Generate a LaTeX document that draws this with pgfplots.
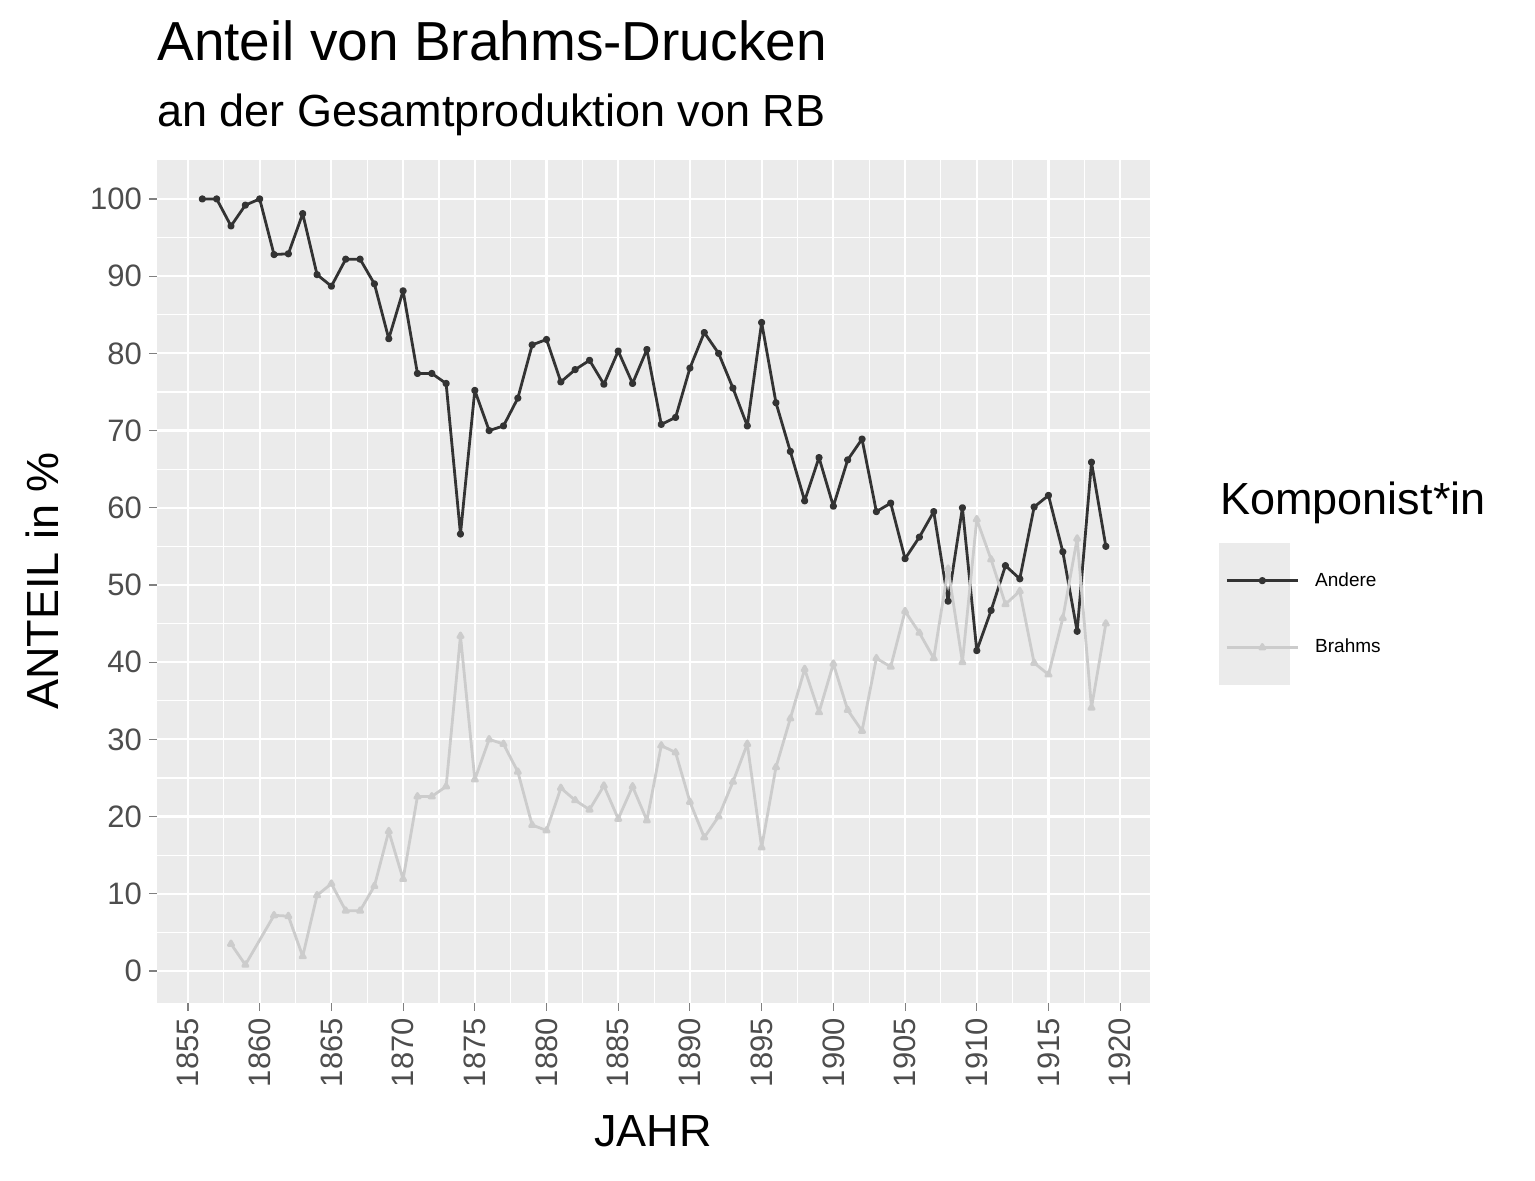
\documentclass[border=0pt]{standalone}
\usepackage{pgfplots}
\pgfplotsset{compat=1.18}
\usepackage{fontspec}
\setmainfont{Liberation Sans}
\definecolor{bg}{HTML}{EBEBEB}
\definecolor{andere}{HTML}{333333}
\definecolor{brahms}{HTML}{CCCCCC}
\definecolor{tick}{HTML}{4D4D4D}
\begin{document}
\begin{tikzpicture}
\useasboundingbox (0,0) rectangle (767.5pt,590.5pt);
\fill[bg] (609.5pt,248pt) rectangle (645pt,319pt);
\begin{axis}[at={(78.5pt,89pt)}, anchor=south west, scale only axis,
 width=496.5pt, height=421.5pt,
 xmin=1852.84, xmax=1922.08, ymin=-4.15, ymax=105.05,
 axis background/.style={fill=bg}, axis line style={draw=none},
 xtick={1855,1860,...,1920}, ytick={0,10,...,100},
 minor xtick={1857.5,1862.5,...,1917.5}, minor ytick={5,15,...,95},
 grid=both, major grid style={white,line width=1.1pt}, minor grid style={white,line width=0.55pt},
 tick style={tick,line width=0.55pt}, major tick length=4pt, minor tick length=0pt,
 tick align=outside, xtick pos=bottom, ytick pos=left,
 /pgf/number format/assume math mode=true, /pgf/number format/1000 sep={},
 ticklabel style={font=\fontsize{15.5}{18}\selectfont, text=tick},
 xticklabel style={rotate=90, anchor=east},
 legend style={at={(1.0695,0.4614)}, anchor=west, draw=none, fill=none, font=\fontsize{9.5}{11}\selectfont, row sep=21pt},
 legend cell align=left,
 legend image code/.code={\draw[#1] (0pt,0pt) -- (35.5pt,0pt); \draw[#1,only marks] plot coordinates {(17.75pt,0pt)};},
]
\addplot[andere, line width=1.4pt, line join=round, mark=*, mark size=1.1pt] coordinates {
(1856,100)(1857,100)(1858,96.5)(1859,99.2)(1860,100)(1861,92.8)(1862,92.9)(1863,98.1)(1864,90.2)(1865,88.7)
(1866,92.2)(1867,92.2)(1868,89)(1869,81.9)(1870,88.1)(1871,77.4)(1872,77.4)(1873,76.1)(1874,56.6)(1875,75.2)
(1876,70.0)(1877,70.6)(1878,74.2)(1879,81.1)(1880,81.8)(1881,76.3)(1882,77.9)(1883,79.1)(1884,76.0)(1885,80.3)
(1886,76.1)(1887,80.5)(1888,70.8)(1889,71.7)(1890,78.1)(1891,82.7)(1892,80.0)(1893,75.5)(1894,70.6)(1895,84.0)
(1896,73.6)(1897,67.3)(1898,60.9)(1899,66.5)(1900,60.2)(1901,66.2)(1902,68.9)(1903,59.5)(1904,60.6)(1905,53.4)
(1906,56.2)(1907,59.5)(1908,47.9)(1909,60.0)(1910,41.5)(1911,46.7)(1912,52.5)(1913,50.8)(1914,60.1)(1915,61.6)
(1916,54.3)(1917,44.0)(1918,65.9)(1919,55.0)};
\addlegendentry{\hspace*{6pt}Andere}
\addplot[brahms, line width=1.4pt, line join=round, mark=triangle*, mark size=1.5pt] coordinates {
(1858,3.5)(1859,0.8)(1861,7.2)(1862,7.1)(1863,1.9)(1864,9.8)(1865,11.3)(1866,7.8)(1867,7.8)(1868,11)
(1869,18.1)(1870,11.9)(1871,22.6)(1872,22.6)(1873,23.9)(1874,43.4)(1875,24.8)(1876,30)(1877,29.4)(1878,25.8)
(1879,18.9)(1880,18.2)(1881,23.7)(1882,22.1)(1883,20.9)(1884,24)(1885,19.7)(1886,23.9)(1887,19.5)(1888,29.2)
(1889,28.3)(1890,21.9)(1891,17.3)(1892,20)(1893,24.5)(1894,29.4)(1895,16)(1896,26.4)(1897,32.7)(1898,39.1)
(1899,33.5)(1900,39.8)(1901,33.8)(1902,31.1)(1903,40.5)(1904,39.4)(1905,46.6)(1906,43.8)(1907,40.5)(1908,52.1)
(1909,40)(1910,58.5)(1911,53.3)(1912,47.5)(1913,49.2)(1914,39.9)(1915,38.4)(1916,45.7)(1917,56)(1918,34.1)(1919,45)};
\addlegendentry{\hspace*{6pt}Brahms}
\end{axis}
\node[anchor=base west, inner sep=0, font=\fontsize{27.5}{32}\selectfont] at (78.5pt,560pt) {Anteil von Brahms-Drucken};
\node[anchor=base west, inner sep=0, font=\fontsize{22.5}{26}\selectfont] at (78.5pt,527pt) {an der Gesamtproduktion von RB};
\node[anchor=base west, inner sep=0, font=\fontsize{22.5}{26}\selectfont] at (610pt,333pt) {Komponist*in};
\node[rotate=90, inner sep=0, font=\fontsize{22.5}{26}\selectfont] at (21pt,300pt) {ANTEIL in \%};
\node[anchor=base, inner sep=0, font=\fontsize{22.5}{26}\selectfont] at (326.5pt,17pt) {JAHR};
\end{tikzpicture}
\end{document}
